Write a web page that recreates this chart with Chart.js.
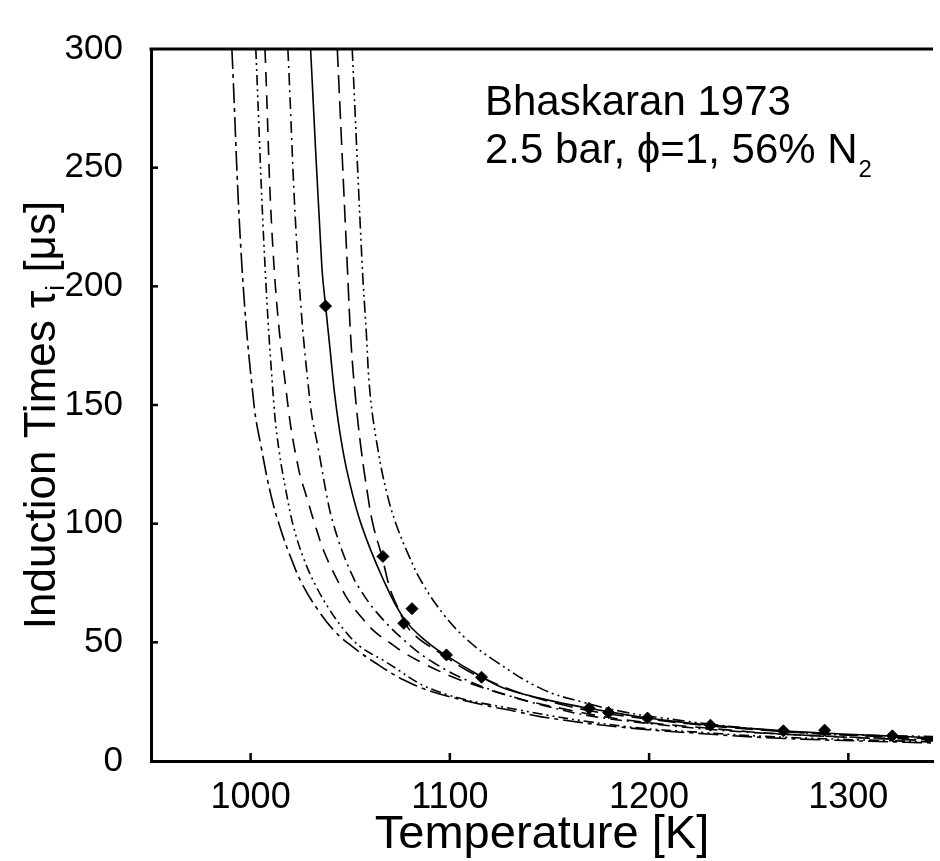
<!DOCTYPE html>
<html>
<head>
<meta charset="utf-8">
<title>Bhaskaran 1973 induction times</title>
<script src="https://cdn.jsdelivr.net/npm/chart.js@4"></script>
<style>
  html, body { margin: 0; padding: 0; background: #fff; overflow: hidden; }
  #wrap { width: 940px; height: 861px; }
</style>
</head>
<body>
<div id="wrap"><canvas id="induction-chart"></canvas></div>
<script>
const xTicks = [1000, 1100, 1200, 1300];
const yTicks = [0, 50, 100, 150, 200, 250, 300];

// model curves, temperature [K] / induction time [us]
const curve1T   = [990.6, 995.6, 1001.7, 1005.6, 1010.2, 1015.2, 1020.5, 1026, 1034, 1042.4, 1050.6, 1062.3, 1077.2, 1092, 1117, 1133.6, 1146, 1186.6, 1227.1, 1267.9, 1328.6, 1342.5];
const curve1Tau = [300, 209, 150, 131, 112, 97.3, 85, 74.4, 63.4, 54.5, 48.5, 41.5, 34, 29, 23.6, 20.8, 18.6, 14.2, 11.5, 9.5, 7.9, 7.6];

const curve2T   = [1002.6, 1007.2, 1011.7, 1014.2, 1017.7, 1021.6, 1026.6, 1032.6, 1039.6, 1047, 1055, 1066.4, 1092.3, 1133.6, 1186.6, 1227.1, 1267.9, 1342.5];
const curve2Tau = [300, 209, 150, 131.2, 114, 98.5, 85.4, 74, 63.8, 55.2, 48.2, 42.5, 29.8, 21.7, 14.7, 12, 10, 8];

const curve3T   = [1007.2, 1011.7, 1018.7, 1024.1, 1028.3, 1032.4, 1037.4, 1044.9, 1049, 1056.5, 1062.4, 1070.4, 1077.4, 1087.3, 1100.2, 1108.7, 1131.6, 1154, 1186.6, 1230, 1269.9, 1342.5];
const curve3Tau = [300, 209, 150, 123, 110.8, 99.3, 87.1, 74, 67.8, 59.7, 54.4, 49.5, 45.4, 40.9, 35.8, 33.1, 27, 22.5, 17.5, 13.8, 11.2, 8.5];

const curve4T   = [1018.7, 1023.8, 1030, 1034.1, 1039.1, 1041.5, 1045.7, 1050.6, 1054, 1063.9, 1078.9, 1092.1, 1110, 1131.6, 1150, 1170.4, 1200, 1240, 1280, 1342.5];
const curve4Tau = [300, 209, 150, 131, 108, 100, 89, 79, 73.5, 62, 49.5, 41.3, 33.5, 27, 22.8, 19, 15.8, 12.7, 10.8, 8.9];

const curve5T   = [1030.1, 1035.7, 1037.6, 1039.8, 1042.3, 1045.4, 1049, 1055.5, 1066.4, 1076.9, 1087.8, 1097.8, 1115.7, 1128.6, 1153.5, 1169.9, 1199.2, 1230.8, 1267.4, 1300, 1342.5];
const curve5Tau = [300, 209, 192, 174.1, 153.7, 135.3, 119.8, 99.7, 76.8, 60.1, 50.7, 44.6, 35.6, 30.2, 24.9, 22.2, 18.1, 15.1, 12.7, 11.3, 9.8];

const curve6T   = [1043.5, 1048.5, 1050.5, 1053, 1055.5, 1058.5, 1061.4, 1065.9, 1069.9, 1073.9, 1080.3, 1093.8, 1115.7, 1153.5, 1199.2, 1267.4, 1342.5];
const curve6Tau = [300, 209, 175, 150, 131.2, 113.6, 99.7, 86.2, 72.8, 64.6, 54.8, 46.2, 35.2, 24.3, 17.7, 12.4, 9.4];

const curve7T   = [1051, 1056, 1058, 1060, 1063.9, 1068.4, 1072.9, 1078.9, 1086.3, 1097.3, 1108.7, 1122.1, 1146, 1166.3, 1186.6, 1206.7, 1247.5, 1288.1, 1342.5];
const curve7Tau = [300, 208.9, 181.5, 154.5, 131.2, 112.8, 100.1, 87.5, 74.8, 61.3, 51.1, 42.5, 30.4, 24.9, 20.8, 18.1, 14, 11.4, 10.3];

// shock tube measurements
const expT   = [1037.6, 1066.4, 1081, 1076.9, 1098.3, 1115.9, 1169.9, 1179.7, 1199.2, 1230.8, 1267.4, 1288.1, 1322.1];
const expTau = [191.7, 86.2, 64.2, 58, 44.7, 35.3, 22.2, 20.4, 18.1, 15.1, 12.7, 13, 10.6];

const toPoints = (xs, ys) => xs.map((x, i) => ({ x: x, y: ys[i] }));

function curve(xs, ys, dash) {
    return {
        data: toPoints(xs, ys),
        showLine: true,
        borderColor: '#000',
        borderWidth: 1.6,
        borderDash: dash,
        pointRadius: 0,
        tension: 0.4,
        fill: false
    };
}

const sans = "'Liberation Sans', Arial, sans-serif";

// inside tick marks, top frame line and text labels
const decorations = {
    id: 'decorations',
    afterDraw(chart) {
        const ctx = chart.ctx;
        const area = chart.chartArea;
        const xs = chart.scales.x, ys = chart.scales.y;
        ctx.save();
        ctx.strokeStyle = '#000';
        ctx.lineWidth = 3;
        ctx.beginPath();
        ctx.moveTo(area.left - 1.5, area.top);
        ctx.lineTo(area.right, area.top);
        ctx.stroke();

        ctx.lineWidth = 2.5;
        xTicks.forEach(v => {
            const px = xs.getPixelForValue(v);
            ctx.beginPath();
            ctx.moveTo(px, area.bottom);
            ctx.lineTo(px, area.bottom - 8);
            ctx.stroke();
        });
        yTicks.slice(1, -1).forEach(v => {
            const py = ys.getPixelForValue(v);
            ctx.beginPath();
            ctx.moveTo(area.left, py);
            ctx.lineTo(area.left + 7, py);
            ctx.stroke();
        });

        ctx.fillStyle = '#000';
        ctx.textAlign = 'left';
        ctx.textBaseline = 'alphabetic';
        ctx.font = '42px ' + sans;
        ctx.fillText('Bhaskaran 1973', 485, 115);
        const line2 = '2.5 bar, \u03D5=1, 56% N';
        ctx.fillText(line2, 485, 163);
        const w2 = ctx.measureText(line2).width;
        ctx.font = '24px ' + sans;
        ctx.fillText('2', 485 + w2 + 1, 177);

        // y axis title with subscript
        ctx.translate(55, 415);
        ctx.rotate(-Math.PI / 2);
        const big = '44px ' + sans;
        const small = '26px ' + sans;
        const partA = 'Induction Times \u03C4', partB = 'i', partC = ' [\u03BCs]';
        ctx.font = big;
        const wa = ctx.measureText(partA).width, wc = ctx.measureText(partC).width;
        ctx.font = small;
        const wb = ctx.measureText(partB).width;
        const x0 = -(wa + wb + wc) / 2;
        ctx.font = big;
        ctx.fillText(partA, x0, 0);
        ctx.font = small;
        ctx.fillText(partB, x0 + wa, 9);
        ctx.font = big;
        ctx.fillText(partC, x0 + wa + wb, 0);
        ctx.restore();
    }
};

new Chart(document.getElementById('induction-chart'), {
    type: 'scatter',
    data: {
        datasets: [
            curve(curve1T, curve1Tau, [20, 5, 4, 5]),
            curve(curve2T, curve2Tau, [10, 4, 2, 4, 2, 4]),
            curve(curve3T, curve3Tau, [14, 9]),
            curve(curve4T, curve4Tau, [12, 5, 2, 5]),
            curve(curve5T, curve5Tau, []),
            curve(curve6T, curve6Tau, [18, 8]),
            curve(curve7T, curve7Tau, [12, 4, 2, 4, 2, 4]),
            {
                data: toPoints(expT, expTau),
                showLine: false,
                pointStyle: 'rectRot',
                pointRadius: 6,
                backgroundColor: '#000',
                borderColor: '#000',
                borderWidth: 1
            }
        ]
    },
    options: {
        maintainAspectRatio: false,
        responsive: true,
        animation: false,
        layout: { padding: { top: 27, right: 0, left: 0, bottom: 0 } },
        plugins: {
            legend: { display: false },
            tooltip: { enabled: false }
        },
        scales: {
            x: {
                type: 'linear',
                min: 950,
                max: 1342.5,
                afterBuildTicks: axis => { axis.ticks = xTicks.map(v => ({ value: v })); },
                afterFit: axis => { axis.height = 100; },
                grid: { display: true, drawOnChartArea: false, drawTicks: false },
                border: { display: true, color: '#000', width: 3 },
                ticks: {
                    color: '#000',
                    font: { family: sans, size: 36 },
                    padding: 15,
                    maxRotation: 0,
                    callback: v => String(v)
                },
                title: {
                    display: true,
                    text: 'Temperature [K]',
                    color: '#000',
                    font: { family: sans, size: 47, lineHeight: 1 },
                    padding: { top: 0, bottom: 2 }
                }
            },
            y: {
                type: 'linear',
                min: 0,
                max: 300,
                afterBuildTicks: axis => { axis.ticks = yTicks.map(v => ({ value: v })); },
                afterFit: axis => { axis.width = 151; },
                grid: { display: true, drawOnChartArea: false, drawTicks: false },
                border: { display: true, color: '#000', width: 3 },
                ticks: { color: '#000', font: { family: sans, size: 35 }, padding: 28, callback: v => String(v) }
            }
        }
    },
    plugins: [decorations]
});
</script>
</body>
</html>
